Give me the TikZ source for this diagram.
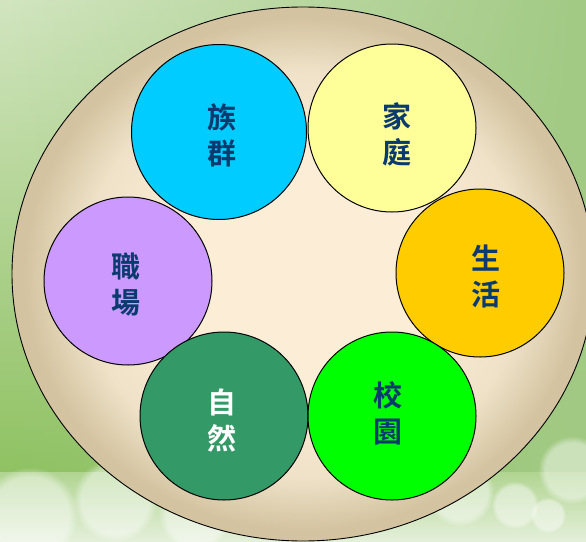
\documentclass[tikz,border=0pt]{standalone}
\usepackage{fontspec}
\newfontfamily\cjkbold{Noto Sans CJK TC Bold}
\usetikzlibrary{fadings}
\definecolor{platein}{HTML}{FBEDD6}
\definecolor{platemid}{HTML}{EFE2C8}
\definecolor{plateout}{HTML}{D3C3A0}
\definecolor{bgtop}{HTML}{D2E5C0}
\definecolor{bgright}{HTML}{A2CA84}
\definecolor{bgleft}{HTML}{8FC262}
\definecolor{navy}{HTML}{0B3B6E}
\definecolor{cZuqun}{HTML}{00CCFF}
\definecolor{cJiating}{HTML}{FFFF99}
\definecolor{cShenghuo}{HTML}{FFCC00}
\definecolor{cZhichang}{HTML}{CC99FF}
\definecolor{cZiran}{HTML}{339966}
\definecolor{cXiaoyuan}{HTML}{00FF00}
\pgfdeclareradialshading{plate}{\pgfpoint{0bp}{0bp}}{color(0bp)=(platein); color(11bp)=(platein); color(19bp)=(platemid); color(24bp)=(plateout); color(50bp)=(plateout)}
\tikzfading[name=fadetoright, left color=transparent!100, right color=transparent!0]
\tikzset{
  topic/.style={circle, draw=black, line width=1pt, minimum size=168pt, inner sep=0pt},
  lbl/.style={font=\cjkbold\fontsize{29}{36}\selectfont, text=navy, align=center, inner sep=0pt},
  bokeh/.style={fill=white, fill opacity=0.45, draw=none, path fading=circle with fuzzy edge 20 percent}
}
\begin{document}
\begin{tikzpicture}[x=1pt,y=-1pt]
\useasboundingbox (0,0) rectangle (586,541);
% background
\shade[top color=bgtop, bottom color=bgleft] (0,0) rectangle (586,472);
\fill[bgright, path fading=fadetoright] (0,0) rectangle (586,472);
\shade[top color=bgleft!70!white, bottom color=bgtop!60!white] (0,472) rectangle (586,541);
\fill[bokeh] (30,515) circle (48);
\fill[bokeh] (115,500) circle (42);
\fill[bokeh] (195,515) circle (36);
\fill[bokeh] (460,492) circle (34);
\fill[bokeh] (515,505) circle (24);
\fill[bokeh] (548,515) circle (18);
\fill[bokeh] (572,470) circle (34);
% plate
\path[shading=plate, draw=black, line width=0.9pt] (303,274) ellipse [x radius=291, y radius=267];
% topics
\node[topic, fill=cZuqun, minimum size=175pt] (zuqun) at (219,132) {};
\node[topic, fill=cJiating] (jiating) at (392,128) {};
\node[topic, fill=cShenghuo] (shenghuo) at (480,273) {};
\node[topic, fill=cZhichang] (zhichang) at (128,281) {};
\node[topic, fill=cZiran] (ziran) at (224,416) {};
\node[topic, fill=cXiaoyuan] (xiaoyuan) at (392,416) {};
% labels
\node[lbl] (tZuqun) at (222,135) {族\\群};
\node[lbl] (tJiating) at (397,134) {家\\庭};
\node[lbl] (tShenghuo) at (486,276) {生\\活};
\node[lbl] (tZhichang) at (126,285) {職\\場};
\node[lbl, text=white] (tZiran) at (222,421) {自\\然};
\node[lbl] (tXiaoyuan) at (388,413) {校\\園};
\end{tikzpicture}
\end{document}
